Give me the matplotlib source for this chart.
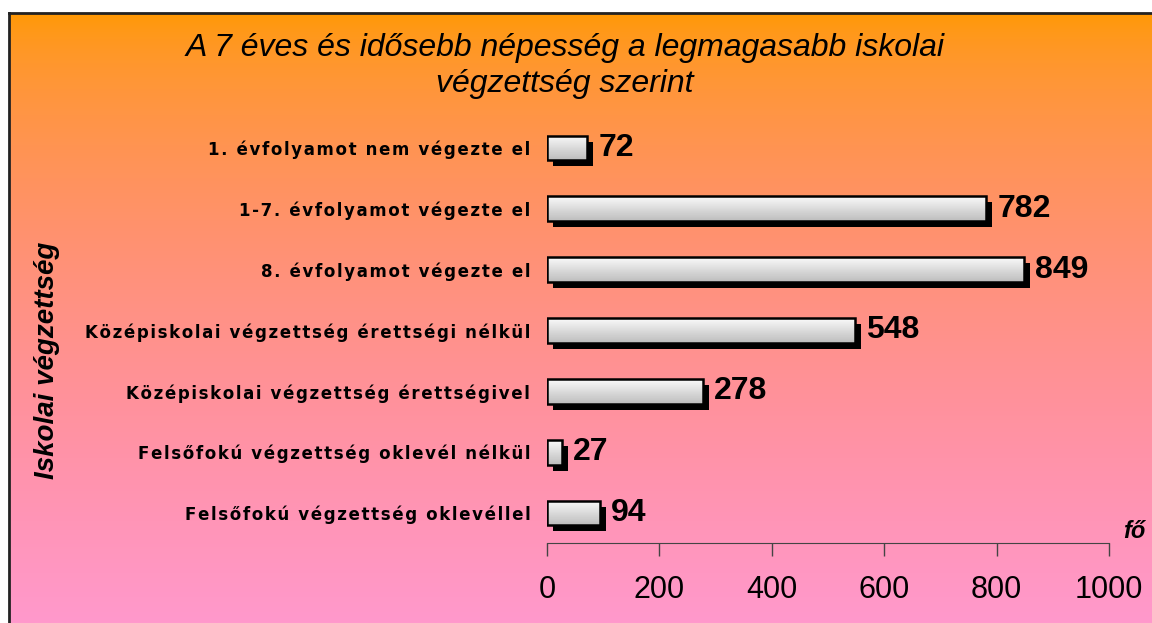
import numpy as np
import matplotlib
matplotlib.use("Agg")
import matplotlib.pyplot as plt
from matplotlib.transforms import ScaledTranslation

categories = [
    "1. évfolyamot nem végezte el",
    "1-7. évfolyamot végezte el",
    "8. évfolyamot végezte el",
    "Középiskolai végzettség érettségi nélkül",
    "Középiskolai végzettség érettségivel",
    "Felsőfokú végzettség oklevél nélkül",
    "Felsőfokú végzettség oklevéllel",
]
values = [72, 782, 849, 548, 278, 27, 94]
xticks = [0, 200, 400, 600, 800, 1000]
title = "A 7 éves és idősebb népesség a legmagasabb iskolai\nvégzettség szerint"
ylabel = "Iskolai végzettség"
xunit = "fő"

W, H = 1152, 623
FONT = ["Liberation Sans", "DejaVu Sans"]


def spaced(s):
    # the original labels are slightly letter-spaced
    return "\u200a".join(s)


fig = plt.figure(figsize=(W / 100, H / 100), dpi=100)
fig.patch.set_facecolor("white")

# orange -> pink background with frame on left/top
bg = fig.add_axes([9 / W, 0, 1 - 9 / W, 1 - 13 / H])
t = np.linspace(0, 1, 256)
grad = np.stack([np.full_like(t, 255),
                 153 - 8 * np.sin(np.pi * t),
                 204 * t ** 0.6], axis=1) / 255
bg.imshow(grad[:, None, :].repeat(2, axis=1), aspect="auto", extent=(0, 1, 0, 1))
bg.set_xticks([])
bg.set_yticks([])
for s in ["right", "bottom"]:
    bg.spines[s].set_visible(False)
for s in ["left", "top"]:
    bg.spines[s].set_color("#222222")
    bg.spines[s].set_linewidth(2)

# main plot
ax = fig.add_axes([547 / W, 1 - 543.4 / H, 562 / W, 425.8 / H])
ax.patch.set_alpha(0)
ypos = np.arange(len(values))
bh = 0.41
shadow_tr = ax.transData + ScaledTranslation(6 / 100, -6 / 100, fig.dpi_scale_trans)
ax.barh(ypos, values, height=bh, color="black", transform=shadow_tr, zorder=2)
bars = ax.barh(ypos, values, height=bh, facecolor="none", edgecolor="black",
               linewidth=1.8, zorder=4)
shade = np.linspace(0.98, 0.74, 64)[:, None]
for b, y, v in zip(bars, ypos, values):
    im = ax.imshow(shade, cmap="gray", vmin=0, vmax=1, aspect="auto",
                   extent=(0, v, y + bh / 2, y - bh / 2), zorder=3)
    im.set_clip_path(b)
    ax.annotate(str(v), (v, y), xytext=(11, 0), textcoords="offset pixels",
                ha="left", va="center", fontsize=23, fontweight="bold",
                family=FONT)

ax.set_xlim(0, 1000)
ax.set_ylim(6.5, -0.5)
ax.set_xticks(xticks)
ax.set_xticklabels([str(x) for x in xticks], fontsize=22, family=FONT)
ax.tick_params(axis="x", direction="out", length=9, width=1, color="#444444", pad=14)
ax.set_yticks(ypos)
ax.set_yticklabels([spaced(c) for c in categories], fontsize=12.0,
                   fontweight="bold", family="DejaVu Sans")
ax.tick_params(axis="y", length=0, pad=12)
for s in ["left", "right", "top"]:
    ax.spines[s].set_visible(False)
ax.spines["bottom"].set_color("#444444")

fig.text(565 / W, 1 - 66 / H, title, ha="center", va="center", fontsize=23,
         style="italic", family=FONT, linespacing=1.24)
fig.text(47 / W, 1 - 360 / H, ylabel, rotation=90, ha="center", va="center",
         fontsize=20, fontweight="bold", style="italic", family=FONT)
fig.text(1123 / W, 1 - 531 / H, xunit, ha="left", va="center", fontsize=17,
         fontweight="bold", style="italic", family=FONT)

fig.savefig("out.png", dpi=100)
